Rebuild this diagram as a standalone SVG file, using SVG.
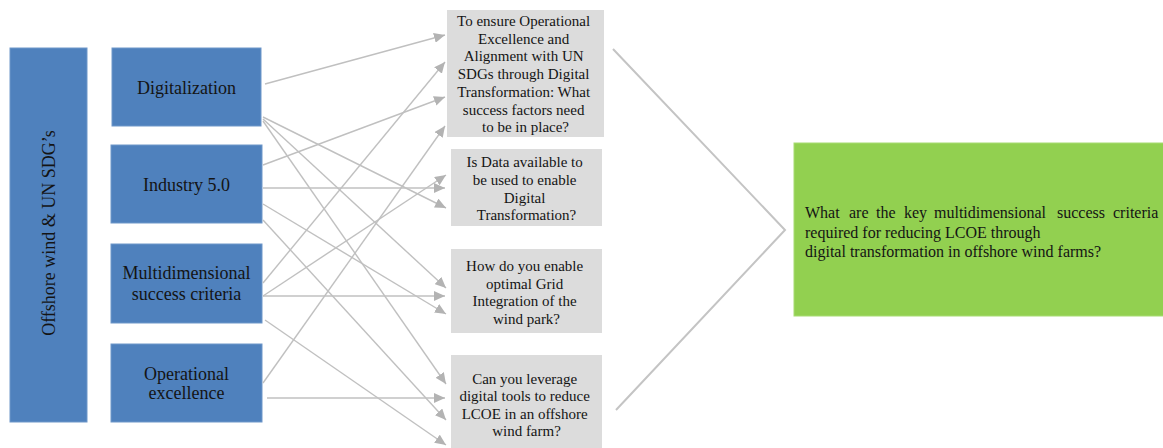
<svg xmlns="http://www.w3.org/2000/svg" width="1163" height="448" viewBox="0 0 1163 448">
  <style>
    .blue { fill: #4f81bd; stroke: #6f97c9; stroke-width: 1; }
    .grey { fill: #dcdcdc; }
    .green { fill: #92d050; stroke: #a8dc72; stroke-width: 1; }
    .lbl { font-family: "Liberation Serif", "Times New Roman", serif; fill: #141414; }
    .big { font-size: 18px; }
    .small { font-size: 15px; }
    .rq { font-size: 16px; }
    .conn { stroke: #c0c0c0; stroke-width: 1.4; fill: none; marker-end: url(#arrow); }
    .chev { stroke: #c4c4c4; stroke-width: 2; fill: none; }
  </style>
  <defs>
    <marker id="arrow" markerUnits="userSpaceOnUse" markerWidth="12" markerHeight="10" refX="11" refY="5" orient="auto">
      <path d="M0,0 L11,5 L0,10 Z" fill="#b3b3b3"/>
    </marker>
  </defs>

  <rect x="0" y="0" width="1163" height="448" fill="#ffffff"/>

  <!-- left context bar -->
  <g id="context">
    <rect class="blue" x="10" y="48" width="77" height="374"/>
    <text class="lbl big" transform="translate(54.5,233) rotate(-90)" text-anchor="middle">Offshore wind &amp; UN SDG’s</text>
  </g>

  <!-- themes -->
  <g id="digitalization">
    <rect class="blue" x="112" y="48" width="149" height="78"/>
    <text class="lbl big" x="186.5" y="94" text-anchor="middle">Digitalization</text>
  </g>
  <g id="industry">
    <rect class="blue" x="111" y="145" width="151" height="78"/>
    <text class="lbl big" x="186.5" y="191" text-anchor="middle">Industry 5.0</text>
  </g>
  <g id="multidimensional">
    <rect class="blue" x="111" y="244" width="151" height="79"/>
    <text class="lbl big" x="186.5" y="279" text-anchor="middle">Multidimensional</text>
    <text class="lbl big" x="186.5" y="300" text-anchor="middle">success criteria</text>
  </g>
  <g id="operational">
    <rect class="blue" x="111" y="344" width="151" height="78"/>
    <text class="lbl big" x="186.5" y="380" text-anchor="middle">Operational</text>
    <text class="lbl big" x="186.5" y="399" text-anchor="middle">excellence</text>
  </g>

  <!-- questions -->
  <g id="q-success-factors">
    <rect class="grey" x="447" y="10" width="157" height="127"/>
    <text class="lbl small" text-anchor="middle">
      <tspan x="525.5" y="26">To ensure Operational</tspan>
      <tspan x="525.5" y="43.5">Excellence and</tspan>
      <tspan x="525.5" y="61">Alignment with UN</tspan>
      <tspan x="525.5" y="79">SDGs through Digital</tspan>
      <tspan x="525.5" y="96.5">Transformation: What</tspan>
      <tspan x="525.5" y="114.5">success factors need</tspan>
      <tspan x="525.5" y="132">to be in place?</tspan>
    </text>
  </g>
  <g id="q-data">
    <rect class="grey" x="451" y="149" width="151" height="77"/>
    <text class="lbl small" text-anchor="middle">
      <tspan x="526.5" y="167">Is Data available to</tspan>
      <tspan x="526.5" y="184.5">be used to enable</tspan>
      <tspan x="526.5" y="202.5">Digital</tspan>
      <tspan x="526.5" y="220">Transformation?</tspan>
    </text>
  </g>
  <g id="q-grid">
    <rect class="grey" x="451" y="249" width="151" height="84"/>
    <text class="lbl small" text-anchor="middle">
      <tspan x="526.5" y="271">How do you enable</tspan>
      <tspan x="526.5" y="288.5">optimal Grid</tspan>
      <tspan x="526.5" y="306">Integration of the</tspan>
      <tspan x="526.5" y="323.5">wind park?</tspan>
    </text>
  </g>
  <g id="q-lcoe">
    <rect class="grey" x="451" y="355" width="151" height="100"/>
    <text class="lbl small" text-anchor="middle">
      <tspan x="526.5" y="383.5">Can you leverage</tspan>
      <tspan x="526.5" y="401">digital tools to reduce</tspan>
      <tspan x="526.5" y="418.5">LCOE in an offshore</tspan>
      <tspan x="526.5" y="436">wind farm?</tspan>
    </text>
  </g>

  <!-- research question -->
  <g id="research-question">
    <rect class="green" x="794" y="143" width="375" height="173"/>
    <text class="lbl rq" y="217.5">
      <tspan x="805">What</tspan>
      <tspan x="849">are</tspan>
      <tspan x="876">the</tspan>
      <tspan x="904">key</tspan>
      <tspan x="934">multidimensional</tspan>
      <tspan x="1057">success</tspan>
      <tspan x="1113">criteria</tspan>
    </text>
    <text class="lbl rq" x="805" y="237.5">required for reducing LCOE through</text>
    <text class="lbl rq" x="805" y="256.5">digital transformation in offshore wind farms?</text>
  </g>

  <!-- connectors -->
  <g id="connectors">
    <line class="conn" x1="265" y1="84" x2="445" y2="35"/>
    <line class="conn" x1="263" y1="117" x2="446" y2="208"/>
    <line class="conn" x1="263" y1="119" x2="446" y2="288"/>
    <line class="conn" x1="263" y1="121" x2="446" y2="384"/>

    <line class="conn" x1="263" y1="165" x2="445" y2="97"/>
    <line class="conn" x1="263" y1="188" x2="445" y2="188"/>
    <line class="conn" x1="263" y1="204" x2="446" y2="314"/>
    <line class="conn" x1="263" y1="220" x2="446" y2="420"/>

    <line class="conn" x1="263" y1="283" x2="445" y2="62"/>
    <line class="conn" x1="263" y1="296" x2="446" y2="175"/>
    <line class="conn" x1="263" y1="296" x2="445" y2="296"/>
    <line class="conn" x1="265" y1="320" x2="446" y2="445"/>

    <line class="conn" x1="263" y1="383" x2="445" y2="126"/>
    <line class="conn" x1="267" y1="398" x2="445" y2="398"/>

    <polyline class="chev" points="613,49 785,230 616,410"/>
  </g>
</svg>
